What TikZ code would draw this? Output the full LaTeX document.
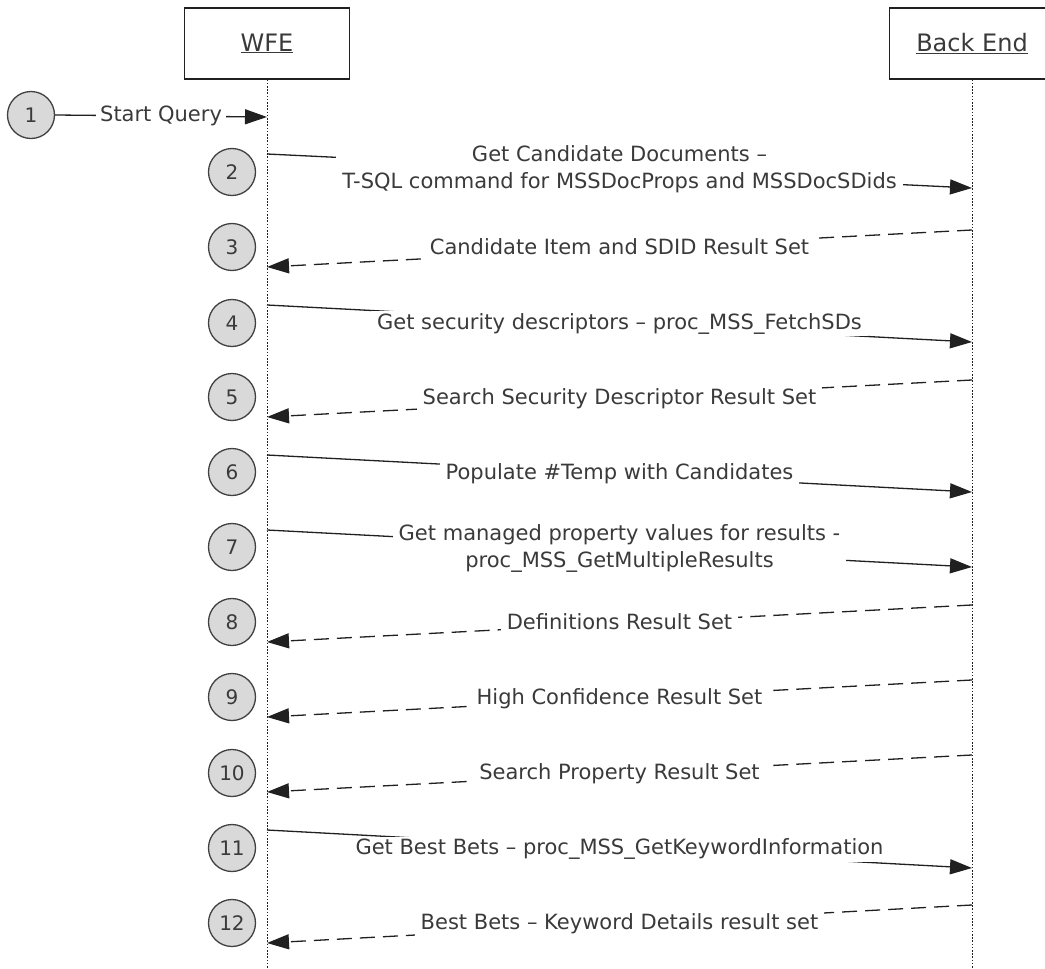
\documentclass[tikz,border=0pt]{standalone}
\usepackage{fontspec}
\setmainfont{DejaVu Sans}
\usetikzlibrary{arrows.meta}
\definecolor{txt}{HTML}{3A3A3A}
\definecolor{ln}{HTML}{202020}
\definecolor{cfill}{HTML}{D9D9D9}
\begin{document}
\begin{tikzpicture}[x=1pt,y=-1pt,
  actor/.style={draw=ln,line width=1.3pt,minimum width=165pt,minimum height=71pt,inner sep=0pt,text=txt,font=\fontsize{24}{28}\selectfont},
  life/.style={draw=ln,line width=1pt,dash pattern=on 1.6pt off 1.6pt},
  num/.style={circle,draw=ln!85,line width=1.3pt,fill=cfill,minimum size=47pt,inner sep=0pt,text=txt,font=\fontsize{20}{24}\selectfont},
  msg/.style={draw=ln,line width=1.3pt,-{Triangle[length=22pt,width=15pt]}},
  ret/.style={msg,dash pattern=on 15pt off 8pt},
  lbl/.style={fill=white,text=txt,inner xsep=6pt,inner ysep=2pt,align=center,font=\fontsize{21}{27}\selectfont},
  one/.style={lbl,text height=16pt,text depth=5pt}
]
\useasboundingbox (0,0) rectangle (1045,969);
\fill[white] (0,0) rectangle (1045,969);

% actors
\node[actor] (wfe) at (267,43.5) {\underline{WFE}};
\node[actor] (be) at (972,43.5) {\underline{Back End}};
\coordinate (wfeEnd) at (267,969);
\coordinate (beEnd) at (972,969);
\draw[life] (wfe.south) -- (wfeEnd);
\draw[life] (be.south) -- (beEnd);

% step circles
\node[num] (n1) at (31,115) {1};
\node[num] (n2) at (232,172) {2};
\node[num] (n3) at (232,247) {3};
\node[num] (n4) at (232,323) {4};
\node[num] (n5) at (232,397) {5};
\node[num] (n6) at (232,472) {6};
\node[num] (n7) at (232,547) {7};
\node[num] (n8) at (232,622) {8};
\node[num] (n9) at (232,697) {9};
\node[num] (n10) at (232,773) {10};
\node[num] (n11) at (232,848) {11};
\node[num] (n12) at (232,923) {12};

% lifeline points
\coordinate (w1) at (267,117);
\coordinate (w2) at (267,154);  \coordinate (b2) at (972,188);
\coordinate (b3) at (972,230);  \coordinate (w3) at (267,267);
\coordinate (w4) at (267,305);  \coordinate (b4) at (972,342);
\coordinate (b5) at (972,380);  \coordinate (w5) at (267,417);
\coordinate (w6) at (267,455);  \coordinate (b6) at (972,492);
\coordinate (w7) at (267,530);  \coordinate (b7) at (972,567);
\coordinate (b8) at (972,605);  \coordinate (w8) at (267,642);
\coordinate (b9) at (972,680);  \coordinate (w9) at (267,717);
\coordinate (b10) at (972,755); \coordinate (w10) at (267,792);
\coordinate (w11) at (267,830); \coordinate (b11) at (972,868);
\coordinate (b12) at (972,905); \coordinate (w12) at (267,943);

% messages
\draw[msg] (n1.east) -- (w1) node[midway,one,inner xsep=4pt] (t1) {Start Query};
\draw[msg] (w2) -- (b2) node[midway,lbl,yshift=1.5pt] (t2) {Get Candidate Documents –\\T-SQL command for MSSDocProps and MSSDocSDids};
\draw[ret] (b3) -- (w3) node[midway,one] (t3) {Candidate Item and SDID Result Set};
\draw[msg] (w4) -- (b4) node[midway,one] (t4) {Get security descriptors – proc\_MSS\_FetchSDs};
\draw[ret] (b5) -- (w5) node[midway,one] (t5) {Search Security Descriptor Result Set};
\draw[msg] (w6) -- (b6) node[midway,one] (t6) {Populate \#Temp with Candidates};
\draw[msg] (w7) -- (b7) node[midway,lbl] (t7) {Get managed property values for results -\\proc\_MSS\_GetMultipleResults};
\draw[ret] (b8) -- (w8) node[midway,one] (t8) {Definitions Result Set};
\draw[ret] (b9) -- (w9) node[midway,one] (t9) {High Confidence Result Set};
\draw[ret] (b10) -- (w10) node[midway,one] (t10) {Search Property Result Set};
\draw[msg] (w11) -- (b11) node[midway,one] (t11) {Get Best Bets – proc\_MSS\_GetKeywordInformation};
\draw[ret] (b12) -- (w12) node[midway,one] (t12) {Best Bets – Keyword Details result set};
\end{tikzpicture}
\end{document}
